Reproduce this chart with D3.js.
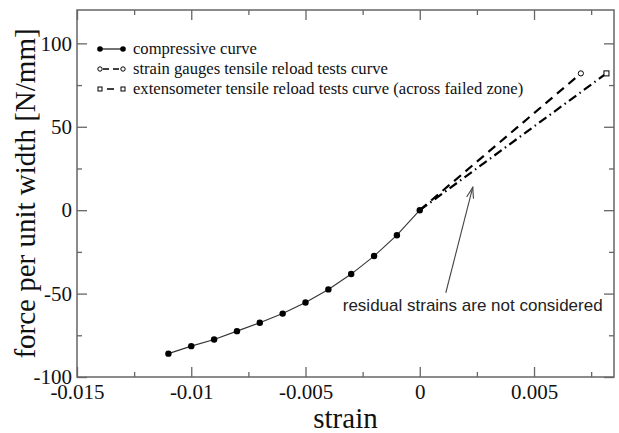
<!DOCTYPE html>
<html>
<head>
<meta charset="utf-8">
<script src="https://cdn.jsdelivr.net/npm/d3@7"></script>
<style>
  body { margin: 0; background: #fff; }
  svg { display: block; }
</style>
</head>
<body>
<svg id="chart"></svg>
<script>
// compressive curve
const compStrain = [-0.011, -0.010, -0.009, -0.008, -0.007, -0.006, -0.005, -0.004, -0.003, -0.002, -0.001, 0];
const compForce = [-86, -81.5, -77.5, -72.5, -67.5, -62, -55.3, -47.5, -38.3, -27.5, -15, 0];

// tensile reload curves
const gaugeStrain = [0, 0.00705];
const gaugeForce = [0, 82];
const extStrain = [0, 0.00817];
const extForce = [0, 82];

const xTicks = [-0.015, -0.01, -0.005, 0, 0.005];
const xTickLabels = ["-0.015", "-0.01", "-0.005", "0", "0.005"];
const xMinorTicks = [-0.0125, -0.0075, -0.0025, 0.0025, 0.0075];
const yTicks = [-100, -50, 0, 50, 100];
const yTickLabels = ["-100", "-50", "0", "50", "100"];
const yMinorTicks = [-75, -25, 25, 75];

const legendLabels = [
  "compressive curve",
  "strain gauges tensile reload tests curve",
  "extensometer tensile reload tests curve (across failed zone)"
];
const annotation = "residual strains are not considered";
// annotation anchor (text start) and arrow in data units
const noteAt = [-0.00337, -60.5];
const arrowFrom = [0.00114, -49.5];
const arrowTo = [0.00232, 13.8];

const width = 619, height = 433;
const margin = { top: 10, right: 5, bottom: 56, left: 77 };
const serif = "'Liberation Serif', 'Times New Roman', serif";

const svg = d3.select("#chart").attr("width", width).attr("height", height);

const xScale = d3.scaleLinear().domain([-0.015, 0.0085]).range([margin.left, width - margin.right]);
const yScale = d3.scaleLinear().domain([-100, 120]).range([height - margin.bottom, margin.top]);

const x0 = xScale.range()[0], x1 = xScale.range()[1];
const y0 = yScale.range()[0], y1 = yScale.range()[1];

const axisColor = "#666";

// Axes (ticks point inward, mirrored on top and right)
function styleAxis(g) {
  g.select(".domain").remove();
  g.selectAll(".tick line").attr("stroke", axisColor).attr("stroke-width", 1.3);
  g.selectAll(".tick text")
    .attr("fill", "#111")
    .style("font-family", serif)
    .style("font-size", "21px");
}

svg.append("g")
  .attr("transform", `translate(0,${y0})`)
  .call(d3.axisBottom(xScale).tickValues(xTicks).tickSize(-10).tickPadding(7)
    .tickFormat((d, i) => xTickLabels[i]))
  .call(styleAxis);
svg.append("g")
  .attr("transform", `translate(0,${y0})`)
  .call(d3.axisBottom(xScale).tickValues(xMinorTicks).tickSize(-5).tickFormat(""))
  .call(styleAxis);
svg.append("g")
  .attr("transform", `translate(0,${y1})`)
  .call(d3.axisTop(xScale).tickValues(xTicks).tickSize(-10).tickFormat(""))
  .call(styleAxis);
svg.append("g")
  .attr("transform", `translate(0,${y1})`)
  .call(d3.axisTop(xScale).tickValues(xMinorTicks).tickSize(-5).tickFormat(""))
  .call(styleAxis);

svg.append("g")
  .attr("transform", `translate(${x0},0)`)
  .call(d3.axisLeft(yScale).tickValues(yTicks).tickSize(-10).tickPadding(5)
    .tickFormat((d, i) => yTickLabels[i]))
  .call(styleAxis);
svg.append("g")
  .attr("transform", `translate(${x0},0)`)
  .call(d3.axisLeft(yScale).tickValues(yMinorTicks).tickSize(-5).tickFormat(""))
  .call(styleAxis);
svg.append("g")
  .attr("transform", `translate(${x1},0)`)
  .call(d3.axisRight(yScale).tickValues(yTicks).tickSize(-10).tickFormat(""))
  .call(styleAxis);
svg.append("g")
  .attr("transform", `translate(${x1},0)`)
  .call(d3.axisRight(yScale).tickValues(yMinorTicks).tickSize(-5).tickFormat(""))
  .call(styleAxis);

// frame
svg.append("rect")
  .attr("x", x0).attr("y", y1)
  .attr("width", x1 - x0).attr("height", y0 - y1)
  .attr("fill", "none")
  .attr("stroke", axisColor)
  .attr("stroke-width", 1.5);

// axis titles
svg.append("text")
  .attr("x", (x0 + x1) / 2)
  .attr("y", 428)
  .attr("text-anchor", "middle")
  .style("font-family", serif)
  .style("font-size", "29px")
  .attr("fill", "#111")
  .text("strain");

svg.append("text")
  .attr("transform", `translate(35,${(y0 + y1) / 2}) rotate(-90)`)
  .attr("text-anchor", "middle")
  .style("font-family", serif)
  .style("font-size", "29px")
  .attr("fill", "#111")
  .text("force per unit width [N/mm]");

const line = d3.line().x((d) => xScale(d[0])).y((d) => yScale(d[1]));

const compData = compStrain.map((s, i) => [s, compForce[i]]);
const gaugeData = gaugeStrain.map((s, i) => [s, gaugeForce[i]]);
const extData = extStrain.map((s, i) => [s, extForce[i]]);

const plot = svg.append("g");

// extensometer curve (dash-dot)
plot.append("path")
  .datum(extData)
  .attr("fill", "none")
  .attr("stroke", "#000")
  .attr("stroke-width", 2.2)
  .attr("stroke-dasharray", "9,4,1.5,4")
  .attr("d", line);

// strain gauge curve (dashed)
plot.append("path")
  .datum(gaugeData)
  .attr("fill", "none")
  .attr("stroke", "#000")
  .attr("stroke-width", 2.2)
  .attr("stroke-dasharray", "9,6")
  .attr("d", line);

// compressive curve
plot.append("path")
  .datum(compData)
  .attr("fill", "none")
  .attr("stroke", "#333")
  .attr("stroke-width", 1.1)
  .attr("d", line);

plot.selectAll("circle.comp")
  .data(compData)
  .join("circle")
  .attr("class", "comp")
  .attr("cx", (d) => xScale(d[0]))
  .attr("cy", (d) => yScale(d[1]))
  .attr("r", 3.2)
  .attr("fill", "#000");

// end markers of the tensile curves
plot.selectAll("circle.gauge")
  .data(gaugeData.slice(1))
  .join("circle")
  .attr("class", "gauge")
  .attr("cx", (d) => xScale(d[0]))
  .attr("cy", (d) => yScale(d[1]))
  .attr("r", 2.6)
  .attr("fill", "#fff")
  .attr("stroke", "#000")
  .attr("stroke-width", 1);

plot.selectAll("rect.ext")
  .data(extData.slice(1))
  .join("rect")
  .attr("class", "ext")
  .attr("x", (d) => xScale(d[0]) - 2.5)
  .attr("y", (d) => yScale(d[1]) - 2.5)
  .attr("width", 5)
  .attr("height", 5)
  .attr("fill", "#fff")
  .attr("stroke", "#000")
  .attr("stroke-width", 1);

// Legend
const legend = svg.append("g").attr("transform", "translate(100,49)");
const rowH = 20;
legendLabels.forEach((label, i) => {
  const row = legend.append("g").attr("transform", `translate(0,${i * rowH})`);
  const ln = row.append("line")
    .attr("x1", 0).attr("x2", 23).attr("y1", 0).attr("y2", 0)
    .attr("stroke", "#000");
  if (i === 0) {
    ln.attr("stroke-width", 1.1);
    [0, 23].forEach((cx) => row.append("circle").attr("cx", cx).attr("cy", 0).attr("r", 2.8).attr("fill", "#000"));
  } else if (i === 1) {
    ln.attr("stroke-width", 1.6).attr("stroke-dasharray", "6,4").attr("x1", 3).attr("x2", 20);
    [0, 23].forEach((cx) => row.append("circle").attr("cx", cx).attr("cy", 0).attr("r", 2.2)
      .attr("fill", "#fff").attr("stroke", "#000").attr("stroke-width", 1));
  } else {
    ln.attr("stroke-width", 1.6).attr("stroke-dasharray", "0,5,7,20").attr("x1", 2).attr("x2", 21);
    [0, 23].forEach((cx) => row.append("rect").attr("x", cx - 2).attr("y", -2).attr("width", 4).attr("height", 4)
      .attr("fill", "#fff").attr("stroke", "#000").attr("stroke-width", 1));
  }
  row.append("text")
    .attr("x", 33)
    .attr("y", 0)
    .attr("dy", "0.32em")
    .style("font-family", serif)
    .style("font-size", "16.6px")
    .attr("fill", "#111")
    .text(label);
});

// Annotation
svg.append("defs").append("marker")
  .attr("id", "arrow")
  .attr("viewBox", "0 0 12 8")
  .attr("refX", 11)
  .attr("refY", 4)
  .attr("markerWidth", 12)
  .attr("markerHeight", 8)
  .attr("markerUnits", "userSpaceOnUse")
  .attr("orient", "auto")
  .append("path")
  .attr("d", "M0,0.5 L11,4 L0,7.5")
  .attr("fill", "none")
  .attr("stroke", "#444")
  .attr("stroke-width", 1.1);

svg.append("line")
  .attr("x1", xScale(arrowFrom[0])).attr("y1", yScale(arrowFrom[1]))
  .attr("x2", xScale(arrowTo[0])).attr("y2", yScale(arrowTo[1]))
  .attr("stroke", "#444")
  .attr("stroke-width", 1.1)
  .attr("marker-end", "url(#arrow)");

svg.append("text")
  .attr("x", xScale(noteAt[0]))
  .attr("y", yScale(noteAt[1]))
  .style("font-family", "'Liberation Sans', Arial, sans-serif")
  .style("font-size", "17px")
  .attr("fill", "#222")
  .text(annotation);
</script>
</body>
</html>
